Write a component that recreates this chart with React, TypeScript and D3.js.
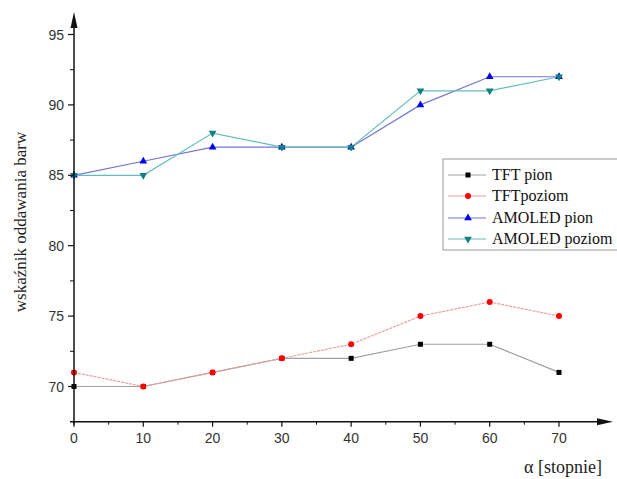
import React from "react";
import * as d3 from "d3";

const angles = [0, 10, 20, 30, 40, 50, 60, 70];
const tftPion = [70, 70, 71, 72, 72, 73, 73, 71];
const tftPoziom = [71, 70, 71, 72, 73, 75, 76, 75];
const amoledPion = [85, 86, 87, 87, 87, 90, 92, 92];
const amoledPoziom = [85, 85, 88, 87, 87, 91, 91, 92];
const seriesNames = ["TFT pion", "TFTpoziom", "AMOLED pion", "AMOLED poziom"];
const yMajorTicks = [70, 75, 80, 85, 90, 95];
const yMinorTicks = [72.5, 77.5, 82.5, 87.5, 92.5];
const xMajorTicks = [0, 10, 20, 30, 40, 50, 60, 70];
const xMinorTicks = [5, 15, 25, 35, 45, 55, 65];

const W = 617;
const H = 479;

export default function App() {
  const x = d3.scaleLinear().domain([0, 70]).range([74, 559]);
  const y = d3.scaleLinear().domain([70, 95]).range([386.5, 34.5]);
  const x0 = x(0);
  const y0 = y(67.5);

  const series = [
    { name: seriesNames[0], data: tftPion, line: "#a0a0a0", marker: "#000000", shape: "square", dash: "" },
    { name: seriesNames[1], data: tftPoziom, line: "#eaa0a0", marker: "#ff0000", shape: "circle", dash: "3,1" },
    { name: seriesNames[2], data: amoledPion, line: "#7474d4", marker: "#0000ee", shape: "up", dash: "" },
    { name: seriesNames[3], data: amoledPoziom, line: "#66bcbc", marker: "#138080", shape: "down", dash: "" },
  ];

  const lineGen = d3
    .line<number>()
    .x((_, i) => x(angles[i]))
    .y((d) => y(d));

  const marker = (shape: string, cx: number, cy: number, color: string, key: string) => {
    if (shape === "square") return <rect key={key} x={cx - 2.5} y={cy - 2.5} width={5} height={5} fill={color} />;
    if (shape === "circle") return <circle key={key} cx={cx} cy={cy} r={3} fill={color} />;
    const sym = d3.symbol().type(d3.symbolTriangle).size(26)();
    return (
      <path
        key={key}
        d={sym || ""}
        transform={`translate(${cx},${cy})${shape === "down" ? " rotate(180)" : ""}`}
        fill={color}
      />
    );
  };

  const tickFont = "'Liberation Sans', Arial, sans-serif";
  const serif = "'Liberation Serif', 'Times New Roman', serif";

  const legX = 443;
  const legY = 159;
  const legRows = [175, 196, 218, 239];

  return (
    <svg width={W} height={H} style={{ position: "absolute", left: 0, top: 0, background: "#fff" }}>
      <rect x={0} y={0} width={W} height={H} fill="#fff" />
      {series.map((s) => (
        <path
          key={s.name + "l"}
          d={lineGen(s.data) || ""}
          fill="none"
          stroke={s.line}
          strokeWidth={1.2}
          strokeDasharray={s.dash || undefined}
        />
      ))}
      {series.map((s) =>
        s.data.map((v, i) => marker(s.shape, x(angles[i]), y(v), s.marker, s.name + i))
      )}
      <line x1={x0 - 4} y1={y0} x2={602} y2={y0} stroke="#111" strokeWidth={1.5} />
      <path d={`M613,${y0} L597,${y0 - 3.5} L597,${y0 + 3.5} Z`} fill="#111" />
      <line x1={x0} y1={y0 + 3} x2={x0} y2={24} stroke="#111" strokeWidth={1.5} />
      <path d={`M${x0},12 L${x0 - 3.5},28 L${x0 + 3.5},28 Z`} fill="#111" />
      {yMajorTicks.map((t) => (
        <g key={"ym" + t}>
          <line x1={x0 - 6} x2={x0} y1={y(t)} y2={y(t)} stroke="#111" strokeWidth={1.2} />
          <text x={x0 - 10} y={y(t) + 5} textAnchor="end" fontFamily={tickFont} fontSize={14} fill="#333">
            {t}
          </text>
        </g>
      ))}
      {yMinorTicks.map((t) => (
        <line key={"yn" + t} x1={x0 - 4} x2={x0} y1={y(t)} y2={y(t)} stroke="#111" strokeWidth={1} />
      ))}
      {xMajorTicks.map((t) => (
        <g key={"xm" + t}>
          <line x1={x(t)} x2={x(t)} y1={y0} y2={y0 + 5} stroke="#111" strokeWidth={1.2} />
          <text x={x(t)} y={y0 + 21} textAnchor="middle" fontFamily={tickFont} fontSize={14} fill="#333">
            {t}
          </text>
        </g>
      ))}
      {xMinorTicks.map((t) => (
        <line key={"xn" + t} x1={x(t)} x2={x(t)} y1={y0} y2={y0 + 3} stroke="#111" strokeWidth={1} />
      ))}
      <text
        transform={`translate(26,222) rotate(-90)`}
        textAnchor="middle"
        fontFamily={serif}
        fontSize={17}
        fill="#222"
      >
        wskaźnik oddawania barw
      </text>
      <text x={602} y={473} textAnchor="end" fontFamily={serif} fontSize={18} fill="#222">
        α [stopnie]
      </text>
      <rect x={legX} y={legY} width={200} height={91} fill="#fff" stroke="#999" strokeWidth={1} />
      {series.map((s, i) => (
        <g key={"lg" + i}>
          <line x1={448} x2={486} y1={legRows[i]} y2={legRows[i]} stroke={s.line} strokeWidth={1.2} />
          {marker(s.shape, 468, legRows[i], s.marker, "lgm" + i)}
          <text x={492} y={legRows[i] + 5} fontFamily={serif} fontSize={16} fill="#111">
            {s.name}
          </text>
        </g>
      ))}
    </svg>
  );
}
